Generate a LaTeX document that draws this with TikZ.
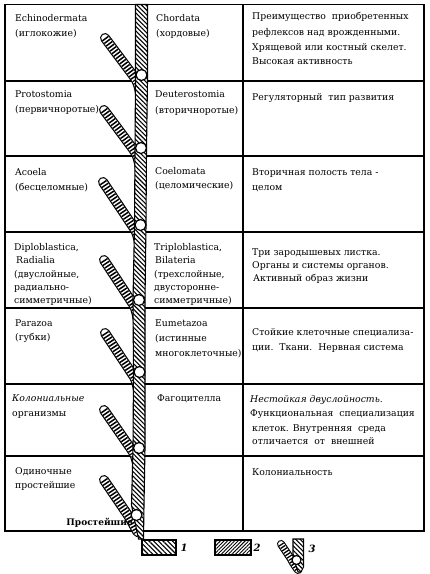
\documentclass[tikz,border=0pt]{standalone}
\usepackage{fontspec}
\setmainfont{DejaVu Serif}
\usetikzlibrary{patterns.meta}
\tikzset{
  tbl/.style={line width=1.1pt},
  txt/.style={anchor=base west, inner sep=0pt, font=\fontsize{9.3}{12}\selectfont},
  itxt/.style={anchor=base west, inner sep=0pt, font=\fontsize{9.3}{12}\selectfont\itshape},
  brout/.style={line width=10pt, line cap=round},
  brin/.style={line width=7.6pt, line cap=round, white},
  brstripe/.style={line width=7.6pt, dash pattern=on 1.5pt off 1.7pt},
  trunkfill/.style={line width=1.1pt, draw, preaction={fill=white}, pattern={Lines[angle=-45,distance=3.2pt,line width=1.1pt]}},
  knot/.style={circle, draw, fill=white, line width=1.2pt, minimum size=11pt, inner sep=0pt},
}
\begin{document}
\begin{tikzpicture}[x=1pt,y=-1pt]
\useasboundingbox (0,0) rectangle (430,574);
% table
\draw[tbl] (5,4.5) rectangle (424,531);
\foreach \yy in {81,156,232,308,384,456} \draw[tbl] (5,\yy) -- (424,\yy);
\draw[tbl] (243,4.5) -- (243,531);
% branches
\foreach \lay in {brout,brin,brstripe}{
  \foreach \tx/\ty/\nx/\ny in {105/38/141.5/75, 104/110/141/148, 103/182/140.5/225, 104/260/139/300, 105/333/139.5/372, 104/410/139/448}{
    \draw[\lay] (\tx,\ty) -- ({\nx-8},{\ny+1}) .. controls ({\nx-4},{\ny+6}) and ({\nx-2},{\ny+12}) .. ({\nx-0.5},{\ny+26});
  }
  \draw[\lay] (104,480) -- (128.5,516) .. controls (131.5,521) and (134,526) .. (137.5,532);
}
% trunk
\draw[trunkfill] (135.5,4.5) -- (135.5,80) -- (135,150) -- (134.5,225) -- (133,300) -- (133.5,372) -- (133,448) -- (131.5,505) -- (138.5,539) -- (143.5,539) -- (144,505) -- (145,448) -- (145,372) -- (145,300) -- (146,225) -- (146.5,150) -- (147.5,80) -- (147.5,4.5) -- cycle;
\node[knot] (k1) at (141.5,75) {};
\node[knot] (k2) at (141,148) {};
\node[knot] (k3) at (140.5,225) {};
\node[knot] (k4) at (139,300) {};
\node[knot] (k5) at (139.5,372) {};
\node[knot] (k6) at (139,448) {};
\node[knot] (k7) at (136.5,515) {};
% texts row 1
\node[txt] (a1) at (15,21) {Echinodermata};
\node[txt] (a2) at (15,36) {(иглокожие)};
\node[txt] (b1) at (156,21.5) {Chordata};
\node[txt] (b2) at (156,36) {(хордовые)};
\node[txt] (c1) at (252,19.5) {Преимущество\ \ приобретенных};
\node[txt] (c2) at (252,35) {рефлексов над врожденными.};
\node[txt] (c3) at (252,50) {Хрящевой или костный скелет.};
\node[txt] (c4) at (252,64.5) {Высокая активность};
% row 2
\node[txt] (d1) at (15,97) {Protostomia};
\node[txt] (d2) at (15,112) {(первичноротые)};
\node[txt] (e1) at (155,97.5) {Deuterostomia};
\node[txt] (e2) at (155,113) {(вторичноротые)};
\node[txt] (f1) at (252,100.5) {Регуляторный\ \ тип развития};
% row 3
\node[txt] (g1) at (15,175.5) {Acoela};
\node[txt] (g2) at (15,190.5) {(бесцеломные)};
\node[txt] (h1) at (155,174) {Coelomata};
\node[txt] (h2) at (155,188) {(целомические)};
\node[txt] (i1) at (252,175.5) {Вторичная полость тела -};
\node[txt] (i2) at (252,190) {целом};
% row 4
\node[txt] (j1) at (14,250.5) {Diploblastica,};
\node[txt] (j2) at (16,263.5) {Radialia};
\node[txt] (j3) at (14,277) {(двуслойные,};
\node[txt] (j4) at (14,290.5) {радиально-};
\node[txt] (j5) at (14,303.5) {симметричные)};
\node[txt] (k1t) at (154,250.5) {Triploblastica,};
\node[txt] (k2t) at (155,263.5) {Bilateria};
\node[txt] (k3t) at (154,277) {(трехслойные,};
\node[txt] (k4t) at (154,290.5) {двусторонне-};
\node[txt] (k5t) at (154,303.5) {симметричные)};
\node[txt] (l1) at (252,255.5) {Три зародышевых листка.};
\node[txt] (l2) at (252,268.5) {Органы и системы органов.};
\node[txt] (l3) at (253,281.5) {Активный образ жизни};
% row 5
\node[txt] (m1) at (15,326.5) {Parazoa};
\node[txt] (m2) at (15,340.5) {(губки)};
\node[txt] (n1) at (155,326.5) {Eumetazoa};
\node[txt] (n2) at (155,341.5) {(истинные};
\node[txt] (n3) at (155,356.5) {многоклеточные)};
\node[txt] (o1) at (252,335.5) {Стойкие клеточные\ специализа-};
\node[txt] (o2) at (252,350.5) {ции.\ \ Ткани.\ \ Нервная система};
% row 6
\node[itxt] (p1) at (12,401.5) {Колониальные};
\node[txt] (p2) at (12,416.5) {организмы};
\node[txt] (q1) at (157,401.5) {Фагоцителла};
\node[itxt] (r1) at (250,402.5) {Нестойкая двуслойность.};
\node[txt] (r2) at (250,416.5) {Функциональная\ \ специализация};
\node[txt] (r3) at (252,431.5) {клеток. Внутренняя\ \ среда};
\node[txt] (r4) at (252,444.5) {отличается\ \ от\ \ внешней};
% row 7
\node[txt] (s1) at (15,474.5) {Одиночные};
\node[txt] (s2) at (15,488.5) {простейшие};
\node[txt] (u1) at (252,475.5) {Колониальность};
\node[anchor=base east, inner sep=0pt, font=\fontsize{9}{12}\selectfont\bfseries] (pr) at (133,525) {Простейшие};
% legend
\draw[line width=1.1pt, pattern={Lines[angle=-45,distance=3.3pt,line width=1.1pt]}] (142,540) rectangle (176,555);
\node[anchor=center, inner sep=0pt, font=\fontsize{10}{12}\selectfont\bfseries\itshape] (lg1) at (184,548) {1};
\draw[line width=1.1pt, pattern={Lines[angle=45,distance=2.5pt,line width=0.9pt]}] (215,540) rectangle (251,555);
\node[anchor=center, inner sep=0pt, font=\fontsize{10}{12}\selectfont\bfseries\itshape] (lg2) at (257,548) {2};
\draw[line width=8pt, line cap=round] (281,544) -- (291,559) .. controls (293,563) and (295,566) .. (298,570);
\draw[line width=5.8pt, line cap=round, white] (281,544) -- (291,559) .. controls (293,563) and (295,566) .. (298,570);
\draw[line width=5.8pt, dash pattern=on 1.3pt off 1.6pt] (281,544) -- (291,559) .. controls (293,563) and (295,566) .. (298,570);
\draw[trunkfill] (293,539) -- (293,556) -- (298,572) -- (301,572) -- (303.5,567) -- (303.5,539) -- cycle;
\node[knot, minimum size=9pt] (lk) at (296.5,560) {};
\node[anchor=center, inner sep=0pt, font=\fontsize{10}{12}\selectfont\bfseries\itshape] (lg3) at (312,549) {3};
\end{tikzpicture}
\end{document}
